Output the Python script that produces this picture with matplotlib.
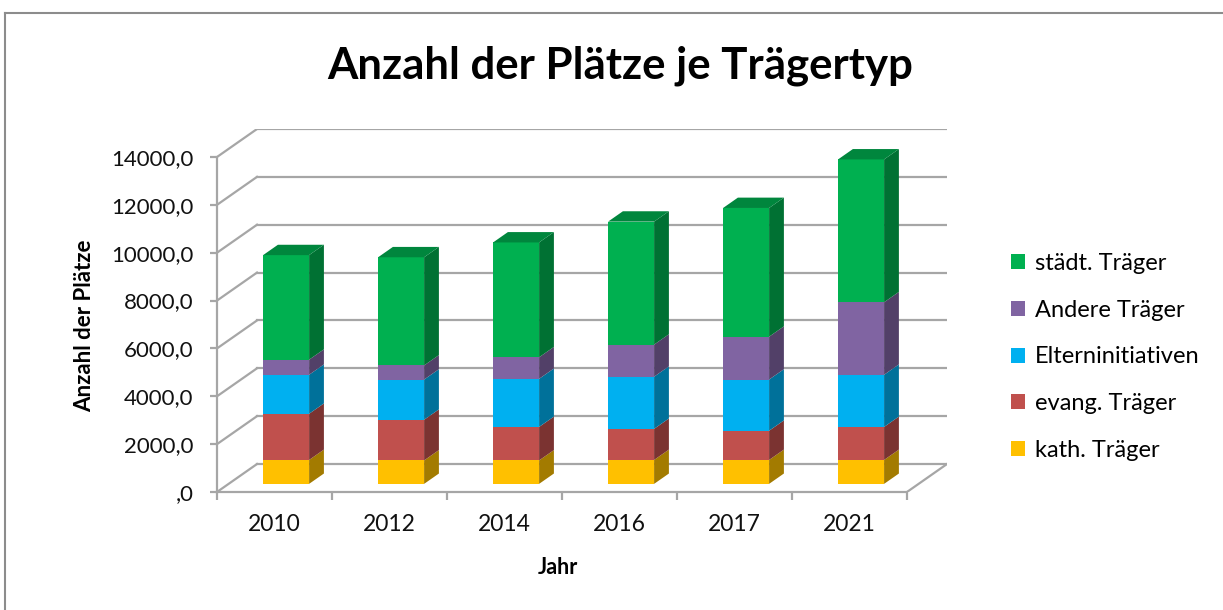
import matplotlib
matplotlib.use("Agg")
import matplotlib.pyplot as plt
from matplotlib.patches import Polygon, Patch
from matplotlib.lines import Line2D
from matplotlib.colors import to_rgb
import numpy as np

plt.rcParams['font.family'] = ['Lato', 'DejaVu Sans']

years = ["2010", "2012", "2014", "2016", "2017", "2021"]
kath = [1000, 980, 980, 1000, 1000, 1000]
evang = [1930, 1700, 1400, 1300, 1220, 1380]
eltern = [1630, 1680, 2010, 2180, 2140, 2180]
andere = [630, 590, 900, 1340, 1790, 3030]
staedt = [4370, 4520, 4800, 5140, 5380, 5970]

names = ["kath. Träger", "evang. Träger", "Elterninitiativen",
         "Andere Träger", "städt. Träger"]
values = [kath, evang, eltern, andere, staedt]
colors = ["#FFC000", "#C0504D", "#00B0F0", "#8064A2", "#00B050"]

y_ticks = list(range(0, 14001, 2000))

# pseudo 3d geometry (depth of the floor, in data units)
WDX = 0.348
WDY = 1170
F0, F1 = 0.29, 0.66
BW = 0.4
GRID = "#A6A6A6"


def shade(c, k):
    return tuple(np.array(to_rgb(c)) * k)


fig = plt.figure(figsize=(12.23, 6.10), dpi=100)
ax = fig.add_axes([217 / 1223, 118 / 610, 730 / 1223, 363 / 610])
n = len(years)
ax.set_xlim(0, n + WDX)
ax.set_ylim(0, y_ticks[-1] + WDY)

# walls and floor
for v in y_ticks:
    ax.plot([WDX, n + WDX], [v + WDY, v + WDY], color=GRID, lw=1.6, zorder=1)
    ax.plot([0, WDX], [v, v + WDY], color=GRID, lw=1.6, zorder=1)
ax.plot([n, n + WDX], [0, WDY], color=GRID, lw=1.6, zorder=1)

# bars
dx = (F1 - F0) * WDX
dy = (F1 - F0) * WDY
for i in range(n):
    x0 = i + 0.5 - BW / 2 + F0 * WDX
    x1 = x0 + BW
    bottom = F0 * WDY
    for j, vals in enumerate(values):
        top = bottom + vals[i]
        c = colors[j]
        ax.bar(x0, vals[i], width=BW, bottom=bottom, align='edge',
               color=c, lw=0, zorder=3)
        ax.add_patch(Polygon([(x1, bottom), (x1 + dx, bottom + dy),
                              (x1 + dx, top + dy), (x1, top)],
                             closed=True, fc=shade(c, 0.64), lw=0, zorder=3))
        if j == len(values) - 1:
            ax.add_patch(Polygon([(x0, top), (x0 + dx, top + dy),
                                  (x1 + dx, top + dy), (x1, top)],
                                 closed=True, fc=shade(c, 0.76), lw=0, zorder=3))
        bottom = top

# axes styling
for s in ["top", "right"]:
    ax.spines[s].set_visible(False)
ax.spines["left"].set_bounds(0, y_ticks[-1])
ax.spines["bottom"].set_bounds(0, n)
for s in ["left", "bottom"]:
    ax.spines[s].set_color(GRID)
    ax.spines[s].set_linewidth(1.6)
    ax.spines[s].set_zorder(2)

ax.set_yticks(y_ticks)
ax.set_yticklabels([",0" if v == 0 else f"{v},0" for v in y_ticks])
ax.tick_params(axis="y", direction="out", length=5, width=1.6, color=GRID,
               labelsize=16, pad=12, labelcolor="#111111")
ax.set_xticks(range(n + 1))
ax.set_xticklabels([])
ax.tick_params(axis="x", which="major", direction="out", length=6, width=1.6,
               color=GRID)
ax.set_xticks([i + 0.5 for i in range(n)], minor=True)
ax.set_xticklabels(years, minor=True)
ax.tick_params(axis="x", which="minor", length=0, pad=16, labelsize=16.5,
               labelcolor="#111111")

# texts
fig.text(620 / 1223, 1 - 66 / 610, "Anzahl der Plätze je Trägertyp",
         ha="center", va="center", fontsize=31.5, fontweight="bold")
fig.text(85 / 1223, 1 - 326 / 610, "Anzahl der Plätze", rotation=90,
         ha="center", va="center", fontsize=16, fontweight="bold")
fig.text(558 / 1223, 1 - 568 / 610, "Jahr", ha="center", va="center",
         fontsize=15.5, fontweight="bold")

handles = [Patch(facecolor=c, edgecolor="none") for c in colors][::-1]
fig.legend(handles, names[::-1], loc="upper left",
           bbox_to_anchor=(1011 / 1223, 1 - 253 / 610), frameon=False,
           fontsize=17, handlelength=0.6, handleheight=0.6,
           handletextpad=0.4, labelspacing=1.09, borderaxespad=0,
           borderpad=0)

# chart border
fig.add_artist(Line2D([5 / 1223, 1], [1 - 13 / 610, 1 - 13 / 610],
                      color="#8C8C8C", lw=1.5))
fig.add_artist(Line2D([5 / 1223, 5 / 1223], [0, 1 - 13 / 610],
                      color="#8C8C8C", lw=1.5))

fig.savefig("out.png", dpi=100)
